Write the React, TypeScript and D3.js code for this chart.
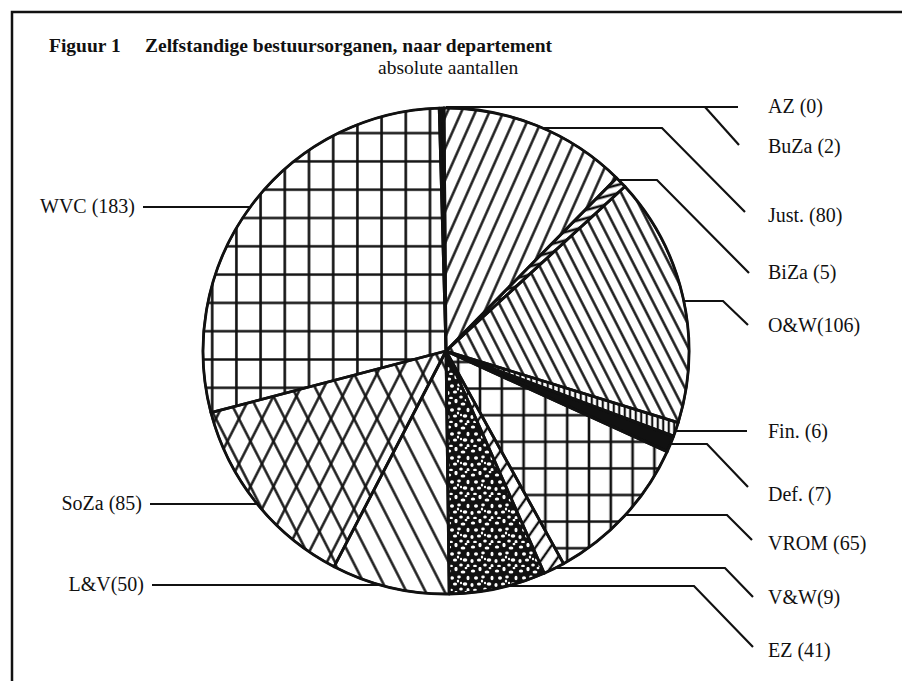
import React, { useEffect } from 'react';
import * as d3 from 'd3';

// ---- data ----
const departments = ['AZ', 'BuZa', 'Just.', 'BiZa', 'O&W', 'Fin.', 'Def.', 'VROM', 'V&W', 'EZ', 'L&V', 'SoZa', 'WVC'];
const counts = [0, 2, 80, 5, 106, 6, 7, 65, 9, 41, 50, 85, 183];
const labelSeparators = [' ', ' ', ' ', ' ', '', ' ', ' ', ' ', '', ' ', '', ' ', ' '];
const titleLead = 'Figuur 1';
const titleMain = 'Zelfstandige bestuursorganen, naar departement';
const subtitle = 'absolute aantallen';

// ---- styling / layout (not data) ----
const fills = ['none', '#111', 'url(#pJust)', 'url(#pBiZa)', 'url(#pOW)', 'url(#pFin)', '#111', 'url(#pVROM)', 'url(#pVW)', 'url(#pEZ)', 'url(#pLV)', 'url(#pSoZaA) url(#pSoZaB)', 'url(#pWVC)'];
const labelSide = ['r', 'r', 'r', 'r', 'r', 'r', 'r', 'r', 'r', 'r', 'l', 'l', 'l'];
const leaderY = [107, 107, 128, 180, 301, 431, 444, 515, 568, 586, 585, 504, 207];
const leaderElbowX = [738, 705, 662, 657, 723, 747, 707, 727, 725, 694, 152, 150, 143];
const leaderEndX = [738, 739, 745, 749, 748, 747, 748, 752, 753, 753, 152, 150, 143];
const leaderEndY = [107, 145, 212, 273, 325, 431, 487, 540, 597, 647, 585, 504, 207];
const labelY = [106, 146, 215, 272, 325, 431, 494, 543, 597, 650, 584, 503, 206];

const W = 902, H = 681;
const cx = 446, cy = 351, R = 243;
const startDeg = -1.6;

// stipple tile holes (texture only)
const stippleHoles: [number, number, number, number][] = [
  [3, 4, 2.2, 1.5], [10, 2, 1.6, 2.2], [17, 5, 2.4, 1.6], [22, 11, 1.5, 2.3], [6, 11, 2.0, 1.7],
  [13, 10, 1.8, 1.4], [19, 17, 2.3, 1.8], [2, 18, 1.6, 2.0], [9, 17, 2.1, 1.5], [15, 22, 1.8, 1.6],
  [22, 23, 1.5, 1.9], [5, 23, 1.9, 1.3], [12, 14, 1.2, 1.6], [20, 1, 1.4, 1.2], [15, 16, 1.1, 1.3],
];

function Hatch({ id, s, rot, sw = 2.4 }: { id: string; s: number; rot: number; sw?: number }) {
  return (
    <pattern id={id} patternUnits="userSpaceOnUse" width={s} height={s} patternTransform={`rotate(${rot})`}>
      <line x1={s / 2} y1={-1} x2={s / 2} y2={s + 1} stroke="#111" strokeWidth={sw} />
    </pattern>
  );
}

function Grid({ id, w, h, x0, y0, sw = 2.6 }: { id: string; w: number; h: number; x0: number; y0: number; sw?: number }) {
  return (
    <pattern id={id} patternUnits="userSpaceOnUse" width={w} height={h} x={x0 - w / 2} y={y0 - h / 2}>
      <path d={`M${w / 2},0V${h}M0,${h / 2}H${w}`} stroke="#111" strokeWidth={sw} fill="none" />
    </pattern>
  );
}

export default function App() {
  useEffect(() => {
    document.body.style.margin = '0';
  }, []);

  const a0 = (startDeg * Math.PI) / 180;
  const pie = d3.pie<number>().sort(null).value((d) => d).startAngle(a0).endAngle(a0 + 2 * Math.PI);
  const arcs = pie(counts);
  const arc = d3.arc<d3.PieArcDatum<number>>().innerRadius(0).outerRadius(R);

  const edgeX = (y: number, side: string) => {
    const dy = y - cy;
    const dx = Math.sqrt(Math.max(0, R * R - dy * dy));
    return side === 'r' ? cx + dx : cx - dx;
  };

  const font = "'Liberation Serif', 'Times New Roman', serif";

  return (
    <svg width={W} height={H} viewBox={`0 0 ${W} ${H}`} style={{ display: 'block', background: '#fff' }}>
      <defs>
        <Grid id="pWVC" w={24.2} h={28.3} x0={226} y0={150} />
        <Grid id="pVROM" w={21.8} h={26.6} x0={470} y0={410} />
        <Hatch id="pJust" s={12.8} rot={24} />
        <Hatch id="pOW" s={10.6} rot={-27} />
        <Hatch id="pLV" s={17} rot={-27} />
        <Hatch id="pVW" s={12} rot={35} />
        <Hatch id="pSoZaA" s={20.5} rot={27} />
        <Hatch id="pSoZaB" s={20.5} rot={-27} />
        <Hatch id="pBiZa" s={8} rot={75} sw={2.6} />
        <Hatch id="pFin" s={5.5} rot={0} sw={2.2} />
        <pattern id="pEZ" patternUnits="userSpaceOnUse" width={24} height={24}>
          <rect width={24} height={24} fill="#111" />
          {stippleHoles.map(([x, y, rx, ry], i) => (
            <ellipse key={i} cx={x} cy={y} rx={rx} ry={ry} fill="#fff" />
          ))}
        </pattern>
      </defs>

      {/* frame */}
      <path d={`M12,${H}V12H${W}`} fill="none" stroke="#111" strokeWidth={2.5} />

      {/* titles */}
      <text x={49} y={52} fontFamily={font} fontWeight="bold" fontSize={19.5} fill="#111">{titleLead}</text>
      <text x={145} y={52} fontFamily={font} fontWeight="bold" fontSize={19.5} fill="#111">{titleMain}</text>
      <text x={378} y={74} fontFamily={font} fontSize={19.5} fill="#111">{subtitle}</text>

      {/* pie */}
      <g transform={`translate(${cx},${cy})`}>
        {arcs.map((a, i) => {
          if (a.value <= 0) return null;
          const d = arc(a) as string;
          const f = fills[i];
          const layers = f.startsWith('url') ? f.split(' ') : [f];
          return (
            <g key={departments[i]}>
              <path d={d} fill="#fff" />
              {layers.map((l, j) => (
                <path key={j} d={d} fill={l} />
              ))}
            </g>
          );
        })}
        {arcs.map((a, i) => {
          if (a.value <= 0) return null;
          return <path key={'s' + i} d={arc(a) as string} fill="none" stroke="#111" strokeWidth={2.8} strokeLinejoin="round" />;
        })}
        <circle r={R} fill="none" stroke="#111" strokeWidth={2.2} />
      </g>

      {/* leaders */}
      {departments.map((dep, i) => {
        const side = labelSide[i];
        const y = leaderY[i];
        let sx = edgeX(y, side);
        if (dep === 'BuZa') sx = leaderElbowX[i];
        const d =
          side === 'r'
            ? `M${sx},${y}H${leaderElbowX[i]}L${leaderEndX[i]},${leaderEndY[i]}`
            : `M${leaderEndX[i]},${leaderEndY[i]}L${leaderElbowX[i]},${y}H${sx}`;
        return <path key={'l' + dep} d={d} fill="none" stroke="#111" strokeWidth={2.2} />;
      })}

      {/* labels */}
      {departments.map((dep, i) => {
        const side = labelSide[i];
        const txt = `${dep}${labelSeparators[i]}(${counts[i]})`;
        return (
          <text
            key={'t' + dep}
            x={side === 'r' ? 768 : leaderEndX[i] - 8}
            y={labelY[i] + 6.5}
            textAnchor={side === 'r' ? 'start' : 'end'}
            fontFamily={font}
            fontSize={20}
            fill="#111"
          >
            {txt}
          </text>
        );
      })}
    </svg>
  );
}
